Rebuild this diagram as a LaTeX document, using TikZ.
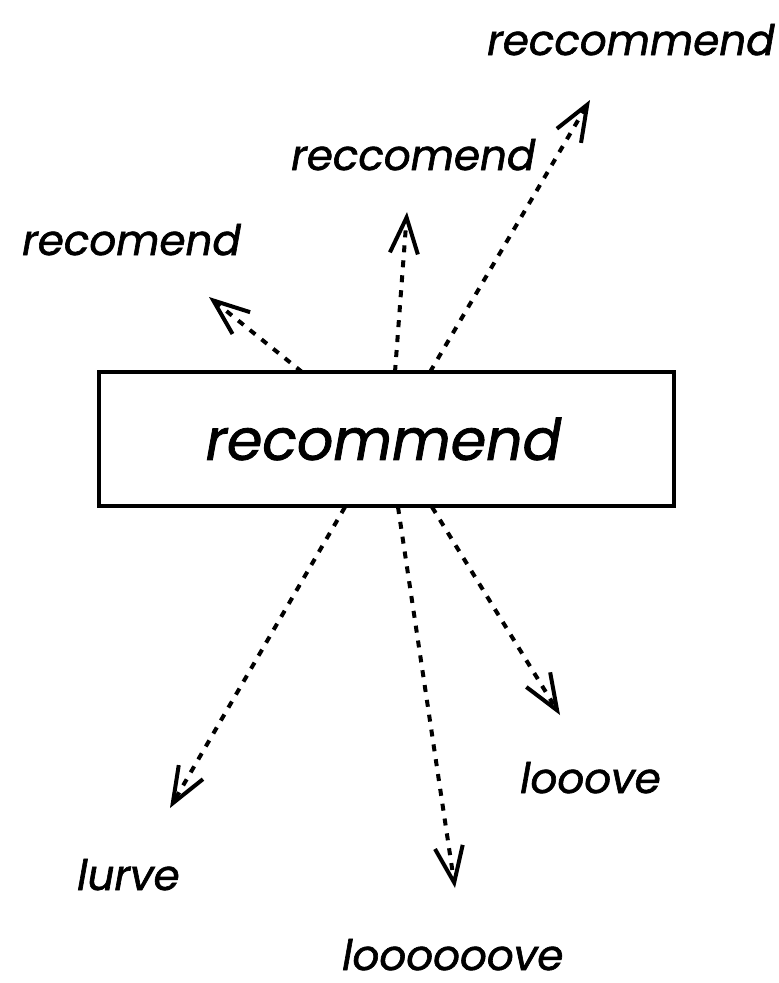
\documentclass[tikz,border=0pt]{standalone}
\usepackage{fontspec}
\setmainfont{Poppins}[ItalicFeatures={FakeBold=1.5}]
\usetikzlibrary{arrows.meta}
\begin{document}
\begin{tikzpicture}[x=1pt,y=-1pt,
  lbl/.style={font=\fontsize{42}{46}\selectfont\itshape, inner sep=0pt, anchor=base west},
  conn/.style={line width=4pt, dash pattern=on 7pt off 8pt, -{Straight Barb[length=36pt,width=28pt,line width=4pt]}}]
\useasboundingbox (0,0) rectangle (779,983);
\node[draw, line width=4pt, minimum width=575pt, minimum height=134pt, inner sep=0pt,
  font=\fontsize{57}{62}\selectfont\itshape] (box) at (386.5,439) {\hspace*{-6pt}recommend};
\node[lbl] (t1) at (22,255) {recomend};
\node[lbl] (t2) at (291,170) {reccomend};
\node[lbl] (t3) at (487,55) {reccommend};
\node[lbl] (b1) at (520,793) {looove};
\node[lbl] (b2) at (77,890) {lurve};
\node[lbl] (b3) at (342,970) {loooooove};
\coordinate (s1) at (302,372); \coordinate (e1) at (209,297);
\coordinate (s2) at (395,372); \coordinate (e2) at (407,212);
\coordinate (s3) at (430,372); \coordinate (e3) at (590,100);
\coordinate (s4) at (345,507); \coordinate (e4) at (170,808);
\coordinate (s5) at (398,507); \coordinate (e5) at (455,888);
\coordinate (s6) at (432,507); \coordinate (e6) at (560,715);
\draw[conn] (s1) -- (e1);
\draw[conn] (s2) -- (e2);
\draw[conn] (s3) -- (e3);
\draw[conn] (s4) -- (e4);
\draw[conn] (s5) -- (e5);
\draw[conn] (s6) -- (e6);
\end{tikzpicture}
\end{document}
